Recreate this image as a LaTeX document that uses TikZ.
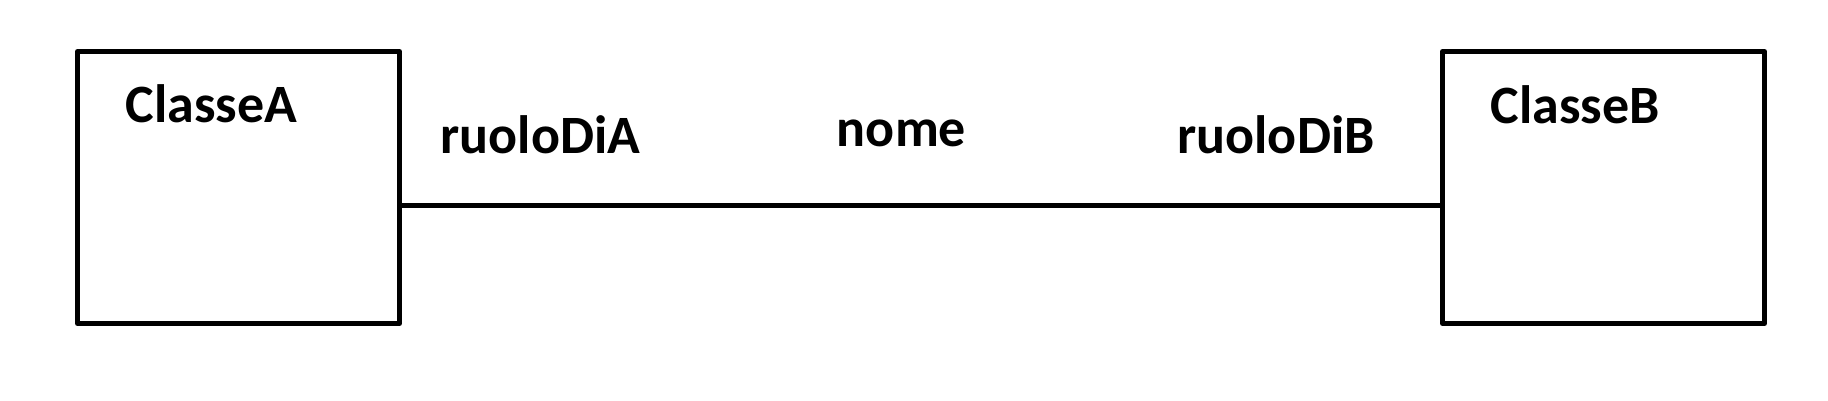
\documentclass[tikz,border=0pt]{standalone}
\usepackage{fontspec}
\setmainfont{Carlito}
\usepackage{tikz}
\usetikzlibrary{positioning}
\tikzstyle{classbox}=[rectangle, draw=black, line width=5pt, line join=round,
  fill=white, minimum width=322pt, minimum height=272pt, inner sep=0pt]
\tikzstyle{lbl}=[font=\fontsize{54}{64}\selectfont\bfseries, anchor=base,
  inner sep=0pt]
\tikzstyle{assoc}=[line width=5pt, color=black]

\begin{document}
\begin{tikzpicture}[x=1pt, y=-1pt]
        \useasboundingbox (0,0) rectangle (1828,400);
        \node[classbox] (clA) at (238.5,187.5) {};
        \node[classbox] (clB) at (1603.5,187.5) {};
        \draw[assoc] ([yshift=-17.5pt]clA.east) -- ([yshift=-17.5pt]clB.west);
        \node[lbl] (nameA) at (211.5,122) {ClasseA};
        \node[lbl] (nameB) at (1575,123) {ClasseB};
        \node[lbl] (roleA) at (540.5,153) {ruoloDiA};
        \node[lbl] (assocname) at (901.5,146) {nome};
        \node[lbl] (roleB) at (1276,153) {ruoloDiB};
      \end{tikzpicture}
\end{document}
